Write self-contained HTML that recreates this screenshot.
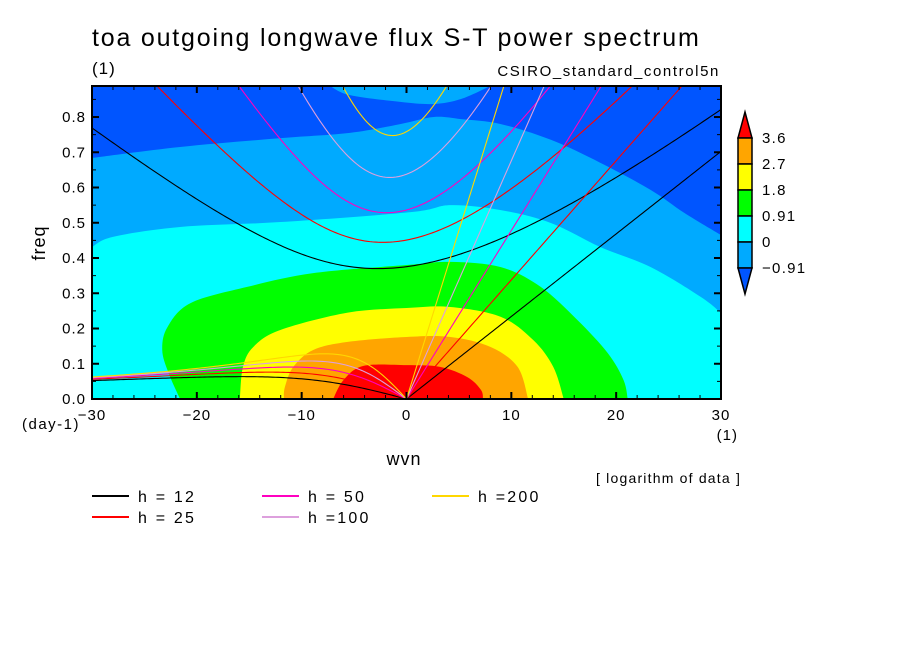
<!DOCTYPE html>
<html><head><meta charset="utf-8"><style>
body{margin:0;background:#fff;}
svg text{font-family:"Liberation Sans",sans-serif;fill:#000;}
</style></head><body>
<svg id="chart" width="904" height="654" viewBox="0 0 904 654" xmlns="http://www.w3.org/2000/svg">
<defs><clipPath id="plotclip"><rect x="92" y="86" width="629" height="313"/></clipPath></defs>
<rect width="904" height="654" fill="#fff"/>
<text x="92" y="46" font-size="25" letter-spacing="1.8">toa outgoing longwave flux S-T power spectrum</text>
<text x="92" y="74" font-size="17" letter-spacing="1">(1)</text>
<text x="720" y="76" font-size="15" text-anchor="end" letter-spacing="1.6">CSIRO_standard_control5n</text>
<g id="fills" clip-path="url(#plotclip)"></g>
<g id="curves" clip-path="url(#plotclip)"></g>
<g id="axes"></g>
<text x="45" y="243" font-size="18" text-anchor="middle" letter-spacing="1" transform="rotate(-90 45 243)">freq</text>
<text x="22" y="429" font-size="15" letter-spacing="1.5">(day-1)</text>
<text x="404" y="465" font-size="18" text-anchor="middle" letter-spacing="1">wvn</text>
<text x="738" y="440" font-size="15" text-anchor="end" letter-spacing="1">(1)</text>
<text x="596" y="483" font-size="14" letter-spacing="1.2">[ logarithm of data ]</text>
<g id="colorbar"></g>
<g id="legend"></g>
</svg>
<script>
// ---- data ----
const levels = [-0.91, 0, 0.91, 1.8, 2.7, 3.6];
const levelLabels = ["-0.91", "0", "0.91", "1.8", "2.7", "3.6"];
const fillColors = ["#0055ff", "#00aaff", "#00ffff", "#00ff00", "#ffff00", "#ffa500", "#ff0000"];
const hValues = [12, 25, 50, 100, 200];
const hColors = ["#000000", "#ff0000", "#ff00c0", "#dda0dd", "#ffd700"];
const hLabels = ["h = 12", "h = 25", "h = 50", "h =100", "h =200"];
const xTicks = [-30, -20, -10, 0, 10, 20, 30];
const yTicks = [0, 0.1, 0.2, 0.3, 0.4, 0.5, 0.6, 0.7, 0.8];
// contour boundaries [wvn, freq]
const lightBlueBoundary = [[-30,0.684],[-21.6,0.715],[-12,0.74],[-5.4,0.755],[-0.6,0.78],[2.6,0.8],[5.2,0.794],[9,0.78],[13.8,0.735],[18.5,0.67],[23.3,0.593],[26.5,0.528],[30,0.465]];
const lightBlueTopBlob = [[-7.3,0.888],[-5.4,0.862],[-0.6,0.843],[2.6,0.837],[5.2,0.851],[8,0.888]];
const cyanBoundary = [[-30,0.431],[-28,0.46],[-21.6,0.488],[-12,0.502],[0.4,0.53],[4.2,0.55],[9,0.536],[13.8,0.499],[18.5,0.431],[23.3,0.374],[28.1,0.289],[30,0.244]];
const greenBoundary = [[-21.6,0],[-22.7,0.074],[-23.3,0.139],[-22.8,0.204],[-20.6,0.272],[-15.2,0.318],[-8.9,0.357],[0,0.38],[4.2,0.389],[9,0.374],[12.8,0.318],[16.3,0.224],[19.2,0.13],[20.7,0.054],[21.1,0]];
const yellowBoundary = [[-15.9,0],[-15.6,0.091],[-14.6,0.148],[-12,0.196],[-5.6,0.245],[0,0.258],[4.2,0.261],[9,0.233],[12.1,0.167],[14,0.091],[15,0]];
const orangeBoundary = [[-11.7,0],[-11.6,0.034],[-10.8,0.091],[-8.9,0.139],[-5.6,0.162],[0,0.176],[4.2,0.176],[8,0.148],[10.6,0.091],[11.6,0]];
const redBoundary = [[-7,0],[-6,0.054],[-4.1,0.094],[0,0.096],[3.2,0.091],[5.8,0.062],[7.1,0.026],[7.3,0]];

// ---- scales ----
const X0=92, X1=721, Y0=399, YT=86;
const xMin=-30, xMax=30, yMax=0.888;
function sx(v){return X0+(v-xMin)/(xMax-xMin)*(X1-X0);}
function sy(v){return Y0-v/yMax*(Y0-YT);}
const NS="http://www.w3.org/2000/svg";
function mk(tag,attrs,parent){const e=document.createElementNS(NS,tag);for(const k in attrs)e.setAttribute(k,attrs[k]);parent.appendChild(e);return e;}

function smoothPath(pts){
  const p=pts.map(d=>[sx(d[0]),sy(d[1])]);
  let s="M"+p[0][0]+","+p[0][1];
  for(let i=0;i<p.length-1;i++){
    const a=p[Math.max(0,i-1)],b=p[i],c=p[i+1],d=p[Math.min(p.length-1,i+2)];
    const c1=[b[0]+(c[0]-a[0])/6,b[1]+(c[1]-a[1])/6];
    const c2=[c[0]-(d[0]-b[0])/6,c[1]-(d[1]-b[1])/6];
    s+=" C"+c1[0]+","+c1[1]+" "+c2[0]+","+c2[1]+" "+c[0]+","+c[1];
  }
  return s;
}
const fills=document.getElementById("fills");
let el=mk("rect",{x:X0,y:YT,width:X1-X0,height:Y0-YT,fill:fillColors[0]},fills);


function band(pts,color,name,closeBottom){
  let d=smoothPath(pts);
  if(closeBottom) d+=" L"+sx(xMax)+","+(Y0+2)+" L"+sx(xMin)+","+(Y0+2)+" Z"; else d+=" Z";
  const e=mk("path",{d:d,fill:color},fills);
  
  
}
band(lightBlueBoundary,fillColors[1],"fill-level-minus-0.91",true);
{let d=smoothPath(lightBlueTopBlob)+" L"+sx(8)+","+(YT-2)+" L"+sx(-7.3)+","+(YT-2)+" Z";
 const e=mk("path",{d:d,fill:fillColors[1]},fills);
 
 }
band(cyanBoundary,fillColors[2],"fill-level-0",true);
band(greenBoundary,fillColors[3],"fill-level-0.91",false);
band(yellowBoundary,fillColors[4],"fill-level-1.8",false);
band(orangeBoundary,fillColors[5],"fill-level-2.7",false);
band(redBoundary,fillColors[6],"fill-level-3.6",false);

// ---- dispersion curves ----
const beta=2.289e-11, R=6.371e6, g=9.81, toCpd=86400/(2*Math.PI);
const curves=document.getElementById("curves");
hValues.forEach((h,i)=>{
  const c=Math.sqrt(g*h);
  const ig=[], ros=[], kel=[];
  for(let s=-30;s<=30.001;s+=0.25){
    const k=s/R, A=c*c*k*k+3*beta*c, B=beta*c*c*k;
    const m=2*Math.sqrt(A/3);
    let arg=(3*B/(2*A))*Math.sqrt(3/A); arg=Math.max(-1,Math.min(1,arg));
    const th=Math.acos(arg)/3;
    const roots=[0,1,2].map(j=>m*Math.cos(th-2*Math.PI*j/3)).filter(r=>r>=0).sort((a,b)=>b-a);
    ig.push([s,roots[0]*toCpd]);
    if(s<=0 && roots.length>1) ros.push([s,roots[1]*toCpd]);
    if(s>=0) kel.push([s,c*k*toCpd]);
  }
  [["ig",ig],["rossby",ros],["kelvin",kel]].forEach(([nm,arr])=>{
    if(!arr.length)return;
    const d="M"+arr.map(p=>sx(p[0]).toFixed(2)+","+sy(p[1]).toFixed(2)).join(" L");
    const e=mk("path",{d:d,fill:"none",stroke:hColors[i],"stroke-width":1.1},curves);
    
    
  });
});

// ---- axes ----
const axes=document.getElementById("axes");
mk("rect",{x:X0,y:YT,width:X1-X0,height:Y0-YT,fill:"none",stroke:"#000","stroke-width":2},axes);
for(let v=-30;v<=30;v+=2){
  const major=v%10===0, L=major?7:4, x=sx(v);
  mk("line",{x1:x,y1:Y0,x2:x,y2:Y0-L,stroke:"#000","stroke-width":major?2:1},axes);
  mk("line",{x1:x,y1:YT,x2:x,y2:YT+L,stroke:"#000","stroke-width":major?2:1},axes);
}
for(let j=0;j<=17;j++){
  const v=j*0.05, major=j%2===0, L=major?7:4, y=sy(v);
  mk("line",{x1:X0,y1:y,x2:X0+L,y2:y,stroke:"#000","stroke-width":major?2:1},axes);
  mk("line",{x1:X1,y1:y,x2:X1-L,y2:y,stroke:"#000","stroke-width":major?2:1},axes);
}
xTicks.forEach(v=>{
  const t=mk("text",{x:sx(v),y:420,"font-size":15,"text-anchor":"middle","letter-spacing":1},axes);
  t.textContent=v<0?"\u2212"+(-v):String(v);
  
  
});
yTicks.forEach(v=>{
  const t=mk("text",{x:86,y:sy(v)+5,"font-size":15,"text-anchor":"end","letter-spacing":1},axes);
  t.textContent=v.toFixed(1);
  
  
});

// ---- colorbar ----
const cb=document.getElementById("colorbar");
const cbX=738, cbW=14, cbTop=138, boxH=26;
const nBoxes=levels.length-1;
{const e=mk("path",{d:`M${cbX},${cbTop} L${cbX+cbW/2},112 L${cbX+cbW},${cbTop} Z`,fill:fillColors[6],stroke:"#000","stroke-width":1.5},cb);
  }
for(let i=0;i<nBoxes;i++){
  const y=cbTop+i*boxH;
  const e=mk("rect",{x:cbX,y:y,width:cbW,height:boxH,fill:fillColors[5-i],stroke:"#000","stroke-width":1.5},cb);
  
  
}
{const yb=cbTop+nBoxes*boxH;
 const e=mk("path",{d:`M${cbX},${yb} L${cbX+cbW/2},${yb+26} L${cbX+cbW},${yb} Z`,fill:fillColors[0],stroke:"#000","stroke-width":1.5},cb);
  }
levelLabels.forEach((lab,i)=>{
  const y=cbTop+(nBoxes-i)*boxH+5;
  const t=mk("text",{x:762,y:y,"font-size":15,"letter-spacing":1.3},cb);
  t.textContent=lab.replace("-","\u2212");
  
  
});

// ---- legend ----
const lg=document.getElementById("legend");
const cols=[92,262,432], rows=[496,517];
hValues.forEach((h,i)=>{
  const cx=cols[Math.floor(i/2)], cy=rows[i%2];
  const g2=mk("g",{},lg);
  
  
  mk("line",{x1:cx,y1:cy,x2:cx+37,y2:cy,stroke:hColors[i],"stroke-width":2},g2);
  const t=mk("text",{x:cx+46,y:cy+6,"font-size":16,"letter-spacing":2.2},g2);
  t.textContent=hLabels[i];
});
</script>
</body></html>
